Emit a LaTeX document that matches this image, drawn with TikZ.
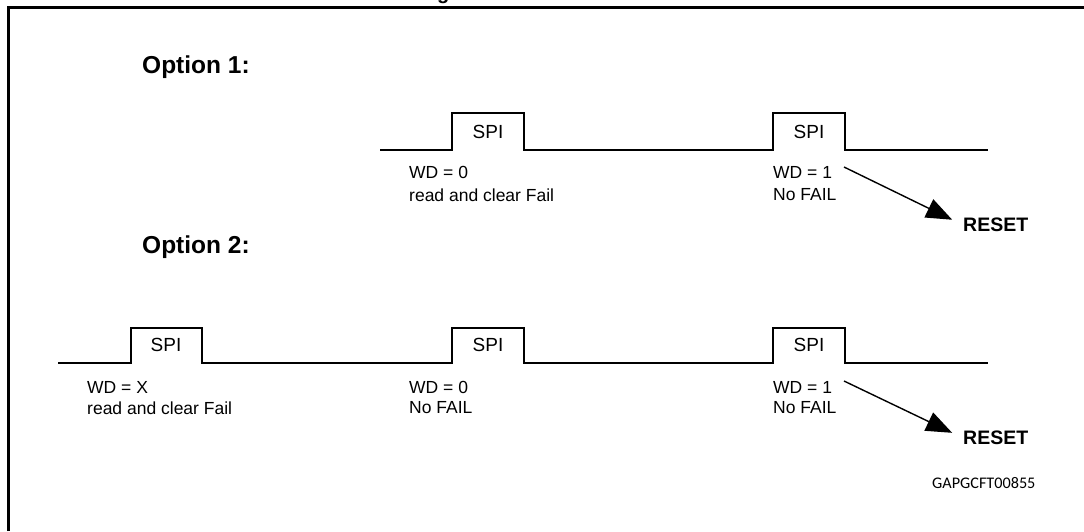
\documentclass[tikz,border=0pt]{standalone}
\usepackage{fontspec}
\setmainfont{Liberation Sans}
\newfontfamily\idfont{Carlito}
\usetikzlibrary{arrows.meta}
\tikzset{
  frameline/.style={line width=3pt},
  wave/.style={line width=1.6pt, line join=miter},
  spilabel/.style={inner sep=0pt, font=\fontsize{19}{22}\selectfont},
  textlabel/.style={inner sep=0pt, anchor=west, align=left, font=\fontsize{17.5}{21.5}\selectfont},
  optlabel/.style={inner sep=0pt, anchor=west, font=\bfseries\fontsize{24.5}{28}\selectfont},
  resetlabel/.style={inner sep=0pt, anchor=west, font=\bfseries\fontsize{19.5}{23}\selectfont},
  resetarrow/.style={line width=1.4pt, -{Triangle[length=26pt,width=20pt]}, shorten >=12pt},
}
\begin{document}
\begin{tikzpicture}[x=1pt,y=-1pt]
\useasboundingbox (0,0) rectangle (1084,531);
% frame
\draw[frameline] (8,531) -- (8,7.5) -- (1084,7.5);
\node[inner sep=0pt, anchor=base west, font=\bfseries\fontsize{20}{24}\selectfont] (title) at (437,-1) {g};

% Option 1
\node[optlabel] (opt1) at (142,67) {Option 1:};
\draw[wave] (380,150) -- (452,150) -- (452,113) -- (524,113) -- (524,150)
  -- (773,150) -- (773,113) -- (845,113) -- (845,150) -- (988,150);
\node[spilabel] (spi11) at (488,132) {SPI};
\node[spilabel] (spi12) at (809,132) {SPI};
\node[textlabel] (wd11) at (409,172) {WD = 0};
\node[textlabel] (wd11b) at (409,195) {read and clear Fail};
\node[textlabel] (wd12) at (773,172) {WD = 1};
\node[textlabel] (wd12b) at (773,195) {No FAIL};
\coordinate (a1) at (844,167);
\node[resetlabel] (reset1) at (963,225) {RESET};
\draw[resetarrow] (a1) -- (reset1.west);

% Option 2
\node[optlabel] (opt2) at (142,247) {Option 2:};
\draw[wave] (58,363) -- (131,363) -- (131,328) -- (202,328) -- (202,363)
  -- (452,363) -- (452,328) -- (524,328) -- (524,363)
  -- (773,363) -- (773,328) -- (845,328) -- (845,363) -- (988,363);
\node[spilabel] (spi21) at (166,345) {SPI};
\node[spilabel] (spi22) at (488,345) {SPI};
\node[spilabel] (spi23) at (809,345) {SPI};
\node[textlabel] (wd21) at (87,387) {WD = X};
\node[textlabel] (wd21b) at (87,408) {read and clear Fail};
\node[textlabel] (wd22) at (409,387) {WD = 0};
\node[textlabel] (wd22b) at (409,408) {No FAIL};
\node[textlabel] (wd23) at (773,387) {WD = 1};
\node[textlabel] (wd23b) at (773,408) {No FAIL};
\coordinate (a2) at (844,381);
\node[resetlabel] (reset2) at (963,438) {RESET};
\draw[resetarrow] (a2) -- (reset2.west);

\node[inner sep=0pt, anchor=west, font=\idfont\fontsize{16.2}{19}\selectfont] (figid) at (932,483) {GAPGCFT00855};
\end{tikzpicture}
\end{document}
